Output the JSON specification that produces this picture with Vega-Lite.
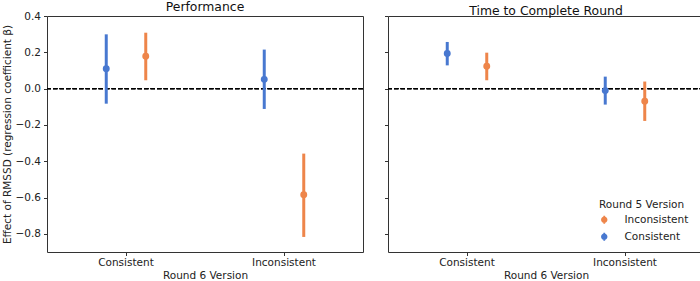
{
  "$schema": "https://vega.github.io/schema/vega-lite/v6.json",
  "padding": {"left": 1, "top": 0, "right": 0, "bottom": 0},
  "data": {
    "values": [
      {"metric": "Performance", "r6": "Consistent", "r5": "Consistent", "beta": 0.110, "lo": -0.083, "hi": 0.299},
      {"metric": "Performance", "r6": "Consistent", "r5": "Inconsistent", "beta": 0.178, "lo": 0.046, "hi": 0.308},
      {"metric": "Performance", "r6": "Inconsistent", "r5": "Consistent", "beta": 0.051, "lo": -0.112, "hi": 0.215},
      {"metric": "Performance", "r6": "Inconsistent", "r5": "Inconsistent", "beta": -0.584, "lo": -0.817, "hi": -0.358},
      {"metric": "Time to Complete Round", "r6": "Consistent", "r5": "Consistent", "beta": 0.193, "lo": 0.128, "hi": 0.257},
      {"metric": "Time to Complete Round", "r6": "Consistent", "r5": "Inconsistent", "beta": 0.123, "lo": 0.046, "hi": 0.198},
      {"metric": "Time to Complete Round", "r6": "Inconsistent", "r5": "Consistent", "beta": -0.011, "lo": -0.088, "hi": 0.066},
      {"metric": "Time to Complete Round", "r6": "Inconsistent", "r5": "Inconsistent", "beta": -0.070, "lo": -0.178, "hi": 0.039}
    ]
  },
  "config": {
    "font": "DejaVu Sans",
    "view": {"stroke": "#333333", "strokeWidth": 1},
    "axis": {
      "domain": false,
      "grid": false,
      "tickSize": 3.5,
      "tickColor": "#333333",
      "tickWidth": 1,
      "labelOverlap": false,
      "labelFont": "DejaVu Sans",
      "labelFontSize": 10.5,
      "labelColor": "#222222",
      "labelPadding": 3,
      "titleFont": "DejaVu Sans",
      "titleFontSize": 10.5,
      "titleFontWeight": "normal",
      "titleColor": "#222222"
    },
    "title": {"font": "DejaVu Sans", "fontSize": 12.4, "fontWeight": "normal", "color": "#111111", "frame": "group", "offset": -2},
    "legend": {
      "titleFont": "DejaVu Sans",
      "titleFontSize": 10.5,
      "titleFontWeight": "normal",
      "titleColor": "#222222",
      "labelFont": "DejaVu Sans",
      "labelFontSize": 10.5,
      "labelColor": "#222222"
    }
  },
  "spacing": 18,
  "resolve": {"scale": {"color": "independent"}},
  "hconcat": [
    {
      "width": 316,
      "height": 236,
      "title": "Performance",
      "transform": [{"filter": "datum.metric === 'Performance'"}],
      "encoding": {
        "x": {"field": "r6", "type": "nominal", "sort": ["Consistent", "Inconsistent"],
              "scale": {"type": "band", "paddingInner": 0, "paddingOuter": 0},
              "axis": {"title": "Round 6 Version", "labelAngle": 0, "labelPadding": 2, "titlePadding": 2}},
        "xOffset": {"field": "r5", "type": "nominal", "sort": ["Consistent", "Inconsistent"],
                    "scale": {"type": "band", "paddingInner": 0, "paddingOuter": 1.47}},
        "color": {"field": "r5", "type": "nominal",
                  "scale": {"domain": ["Inconsistent", "Consistent"], "range": ["#ee854a", "#4878d0"]},
                  "legend": null}
      },
      "layer": [
        {
          "mark": {"type": "rule", "color": "black", "strokeDash": [4.5, 2], "strokeWidth": 1.3},
          "encoding": {
            "x": null, "xOffset": null, "color": null,
            "y": {"datum": 0, "type": "quantitative",
                  "scale": {"domain": [-0.9, 0.4], "nice": false, "zero": false}}
          }
        },
        {
          "mark": {"type": "rule", "strokeWidth": 3},
          "encoding": {
            "y": {"field": "lo", "type": "quantitative",
                  "scale": {"domain": [-0.9, 0.4], "nice": false, "zero": false},
                  "axis": {"values": [-0.8, -0.6, -0.4, -0.2, 0, 0.2, 0.4], "format": ".1f",
                           "labelOverlap": false, "tickCount": 7,
                           "title": "Effect of RMSSD (regression coefficient β)", "titlePadding": 3}},
            "y2": {"field": "hi"}
          }
        },
        {
          "mark": {"type": "point", "filled": true, "opacity": 1, "size": 48},
          "encoding": {
            "y": {"field": "beta", "type": "quantitative"}
          }
        }
      ]
    },
    {
      "width": 316,
      "height": 236,
      "title": "Time to Complete Round",
      "transform": [{"filter": "datum.metric === 'Time to Complete Round'"}],
      "encoding": {
        "x": {"field": "r6", "type": "nominal", "sort": ["Consistent", "Inconsistent"],
              "scale": {"type": "band", "paddingInner": 0, "paddingOuter": 0},
              "axis": {"title": "Round 6 Version", "labelAngle": 0, "labelPadding": 2, "titlePadding": 2}},
        "xOffset": {"field": "r5", "type": "nominal", "sort": ["Consistent", "Inconsistent"],
                    "scale": {"type": "band", "paddingInner": 0, "paddingOuter": 1.47}},
        "color": {"field": "r5", "type": "nominal",
                  "scale": {"domain": ["Inconsistent", "Consistent"], "range": ["#ee854a", "#4878d0"]},
                  "legend": {"title": "Round 5 Version", "orient": "none", "legendX": 211, "legendY": 184,
                             "padding": 0, "titlePadding": 4, "rowPadding": 6, "labelOffset": 15,
                             "symbolType": "M-0.22,-1L0.22,-1L0.22,1L-0.22,1Z M0.8,0A0.8,0.8 0 1,1 -0.8,0A0.8,0.8 0 1,1 0.8,0Z",
                             "symbolSize": 64, "symbolStrokeWidth": 0}}
      },
      "layer": [
        {
          "mark": {"type": "rule", "color": "black", "strokeDash": [4.5, 2], "strokeWidth": 1.3},
          "encoding": {
            "x": null, "xOffset": null, "color": null,
            "y": {"datum": 0, "type": "quantitative",
                  "scale": {"domain": [-0.9, 0.4], "nice": false, "zero": false}}
          }
        },
        {
          "mark": {"type": "rule", "strokeWidth": 3},
          "encoding": {
            "y": {"field": "lo", "type": "quantitative",
                  "scale": {"domain": [-0.9, 0.4], "nice": false, "zero": false},
                  "axis": {"values": [-0.8, -0.6, -0.4, -0.2, 0, 0.2, 0.4], "labels": false, "title": null, "tickCount": 7}},
            "y2": {"field": "hi"}
          }
        },
        {
          "mark": {"type": "point", "filled": true, "opacity": 1, "size": 48},
          "encoding": {
            "y": {"field": "beta", "type": "quantitative"}
          }
        }
      ]
    }
  ]
}
